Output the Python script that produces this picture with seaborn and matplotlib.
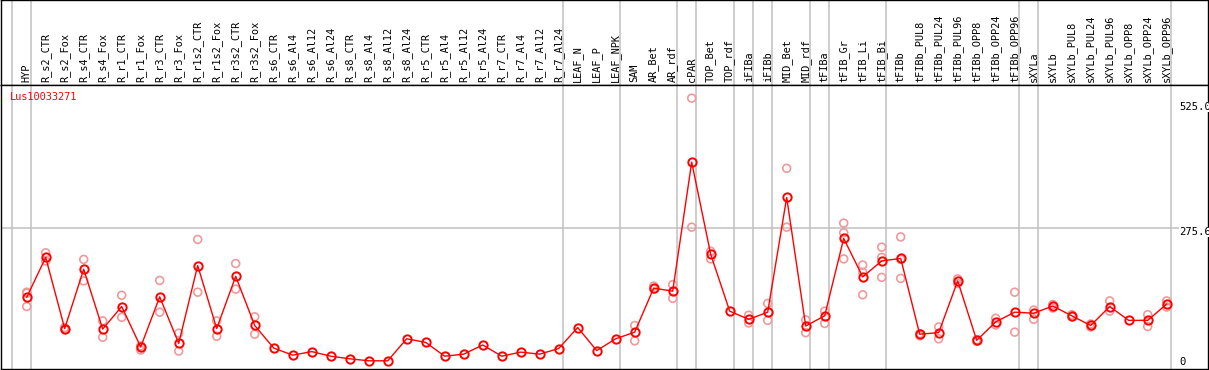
"""
Profil d'expression Lus10033271 par tissu / condition
"""

import numpy as np
import pandas as pd
import matplotlib
matplotlib.use("Agg")
import matplotlib.pyplot as plt
import matplotlib.transforms as mtransforms
import seaborn as sns

sns.set_style("white")
plt.rcParams['font.family'] = ['DejaVu Sans Mono']

# --- données ---
samples = ['HYP', 'R_s2_CTR', 'R_s2_Fox', 'R_s4_CTR', 'R_s4_Fox', 'R_r1_CTR', 'R_r1_Fox',
           'R_r3_CTR', 'R_r3_Fox', 'R_r1s2_CTR', 'R_r1s2_Fox', 'R_r3s2_CTR', 'R_r3s2_Fox',
           'R_s6_CTR', 'R_s6_Al4', 'R_s6_Al12', 'R_s6_Al24', 'R_s8_CTR', 'R_s8_Al4',
           'R_s8_Al12', 'R_s8_Al24', 'R_r5_CTR', 'R_r5_Al4', 'R_r5_Al12', 'R_r5_Al24',
           'R_r7_CTR', 'R_r7_Al4', 'R_r7_Al12', 'R_r7_Al24', 'LEAF_N', 'LEAF_P', 'LEAF_NPK',
           'SAM', 'AR_Bet', 'AR_rdf', 'cPAR', 'TOP_Bet', 'TOP_rdf', 'iFIBa', 'iFIBb',
           'MID_Bet', 'MID_rdf', 'tFIBa', 'tFIB_Gr', 'tFIB_Li', 'tFIB_Bi', 'tFIBb',
           'tFIBb_PUL8', 'tFIBb_PUL24', 'tFIBb_PUL96', 'tFIBb_OPP8', 'tFIBb_OPP24',
           'tFIBb_OPP96', 'sXYLa', 'sXYLb', 'sXYLb_PUL8', 'sXYLb_PUL24', 'sXYLb_PUL96',
           'sXYLb_OPP8', 'sXYLb_OPP24', 'sXYLb_OPP96']

mean_expr = [141, 219, 80, 196, 79, 123, 44, 142, 51, 203, 80, 182, 86,
             42, 28, 35, 26, 21, 17, 17, 60, 53, 26, 30, 48, 26, 34, 30, 41,
             82, 37, 60, 73, 159, 153, 405, 225, 114, 98, 112, 336, 85, 105,
             256, 181, 212, 217, 69, 72, 173, 57, 93, 112, 110, 124, 105, 86,
             123, 96, 96, 128]

nan = np.nan
rep_a = [151, 228, 82, 215, 95, 145, 46, 174, 71, 254, 95, 207, 103,
         nan, nan, nan, nan, nan, nan, nan, nan, nan, nan, nan, nan, nan, nan, nan, nan,
         nan, nan, nan, 86, 163, 166, 530, 231, nan, 106, 129, 393, 97, 114,
         286, 204, 239, 259, 70, 83, 177, 58, 100, 151, 116, 127, 107, 89,
         134, nan, 107, 134]
rep_b = [123, 212, 78, 173, 63, 102, 38, 112, 36, 151, 65, 157, 69,
         nan, nan, nan, nan, nan, nan, nan, nan, nan, nan, nan, nan, nan, nan, nan, nan,
         nan, nan, nan, 56, 157, 139, 278, 216, nan, 91, 96, 278, 72, 90,
         216, 146, 180, 178, 66, 60, 168, 55, 87, 73, 98, 120, 103, 83,
         114, nan, 84, 122]
rep_c = [149] + [nan] * 42 + [267, 190, 219, 215] + [nan] * 14

# séparations de groupes (après l'indice)
group_breaks = [-1, 0, 28, 31, 34, 35, 37, 38, 39, 41, 42, 45, 52, 53, 60]
threshold = 275.6
y_max_label = 525.0

gene = 'Lus10033271'

# --- figure ---
W, H = 1209, 370
fig = plt.figure(figsize=(W / 100, H / 100), dpi=100)
fig.patch.set_facecolor('white')

x0_px, step_px = 26.7, 19.0
left_px, right_px = 1, 1208
xlim = ((left_px - x0_px) / step_px, (right_px - x0_px) / step_px)

ax_h = fig.add_axes([left_px / W, (H - 85) / H, (right_px - left_px) / W, 85 / H])
ax = fig.add_axes([left_px / W, 1 / H, (right_px - left_px) / W, 284 / H])

for a in (ax_h, ax):
    a.set_xlim(*xlim)
    a.set_xticks([])
    a.set_yticks([])
    for s in a.spines.values():
        s.set_color('black')
        s.set_linewidth(1.0)
    for b in group_breaks:
        a.axvline(b + 0.2, color='#c0c0c0', lw=1.1, zorder=0)
ax_h.set_ylim(0, 1)
ax.set_ylim(1, 555.7)

# en-tête : noms d'échantillons
x = np.arange(len(samples))
trans = mtransforms.blended_transform_factory(ax_h.transData, ax_h.transAxes)
for i, name in enumerate(samples):
    ax_h.text(i, 0.03, name, rotation=90, ha='center', va='bottom',
              fontsize=7.4, transform=trans, color='black')

# ligne seuil
ax.axhline(threshold, color='#c0c0c0', lw=1.1, zorder=0)

# réplicats
reps = pd.DataFrame({'x': np.concatenate([x, x, x]),
                     'y': np.concatenate([rep_a, rep_b, rep_c])}).dropna()
sns.scatterplot(data=reps, x='x', y='y', ax=ax, marker='o', s=32,
                facecolors='none', edgecolors='#ef9a9a', linewidth=1.2, zorder=2)

# moyenne
df = pd.DataFrame({'x': x, 'y': mean_expr})
sns.lineplot(data=df, x='x', y='y', ax=ax, color='red', lw=1.0,
             marker='o', markersize=6, markerfacecolor='none',
             markeredgecolor='red', markeredgewidth=1.4, zorder=3)
ax.set_xlabel('')
ax.set_ylabel('')
ax.set_xlim(*xlim)

# étiquettes
fig.text(10 / W, 1 - 97 / H, gene, color='red', fontsize=7.4, ha='left', va='center')
for val, ypx in [(y_max_label, 107), (threshold, 232), (0, 362)]:
    lab = '0' if val == 0 else f'{val:.1f}'
    fig.text(1179 / W, 1 - ypx / H, lab, color='black', fontsize=7.6, ha='left', va='center',
             bbox=dict(facecolor='white', edgecolor='none', pad=0.3))

plt.savefig('out.png', dpi=100)
plt.close()
